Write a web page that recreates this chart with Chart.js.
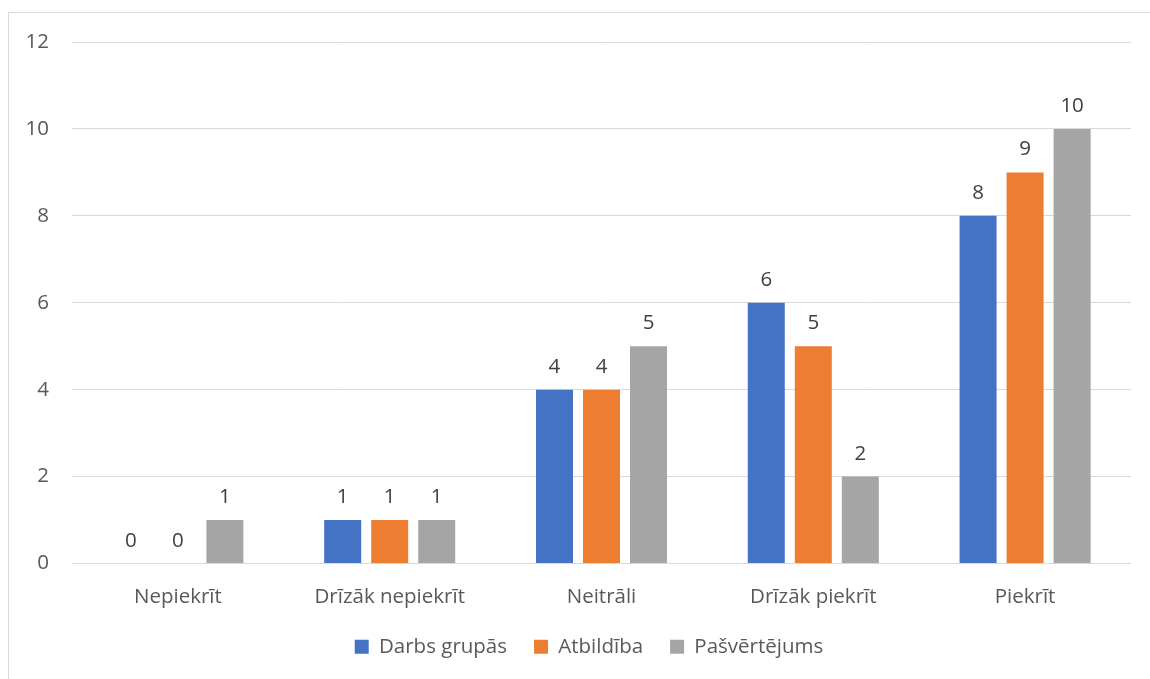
<!DOCTYPE html>
<html>
<head>
<meta charset="utf-8">
<script src="https://cdn.jsdelivr.net/npm/chart.js@4/dist/chart.umd.min.js"></script>
<style>
  body { margin: 0; background: #fff; overflow: hidden; }
  #frame { position: absolute; left: 8px; top: 12px; width: 1160px; height: 690px; border: 1px solid #d9d9d9; }
</style>
</head>
<body>
<div id="frame">
  <canvas id="answersChart" width="1141" height="666" style="width:1141px;height:666px"></canvas>
</div>
<script>
const categories = ['Nepiekrīt', 'Drīzāk nepiekrīt', 'Neitrāli', 'Drīzāk piekrīt', 'Piekrīt'];
const darbsGrupas = [0, 1, 4, 6, 8];
const atbildiba = [0, 1, 4, 5, 9];
const pasvertejums = [1, 1, 5, 2, 10];
const yTicks = [0, 2, 4, 6, 8, 10, 12];

const font = '"Open Sans", "Noto Sans", sans-serif';
const fontSize = 20.5;

// numbers above the bars
const valueLabels = {
    id: 'valueLabels',
    afterDatasetsDraw(chart) {
        const ctx = chart.ctx;
        ctx.save();
        ctx.font = fontSize + 'px ' + font;
        ctx.fillStyle = '#404040';
        ctx.textAlign = 'center';
        ctx.textBaseline = 'alphabetic';
        chart.data.datasets.forEach((ds, i) => {
            chart.getDatasetMeta(i).data.forEach((bar, j) => {
                ctx.fillText(ds.data[j], bar.x, bar.y - 17);
            });
        });
        ctx.restore();
    }
};

// legend sits a bit right of the canvas middle in the original
const legendShift = {
    id: 'legendShift',
    afterLayout(chart) {
        chart.legend.left += 17;
        chart.legend.right += 17;
    }
};

new Chart(document.getElementById('answersChart'), {
    type: 'bar',
    data: {
        labels: categories,
        datasets: [
            { label: 'Darbs grupās', data: darbsGrupas, backgroundColor: '#4472c4' },
            { label: 'Atbildība', data: atbildiba, backgroundColor: '#ed7d31' },
            { label: 'Pašvērtējums', data: pasvertejums, backgroundColor: '#a5a5a5' }
        ]
    },
    options: {
        responsive: false,
        animation: false,
        categoryPercentage: 0.666,
        barPercentage: 0.787,
        layout: { padding: { top: 0, right: 19, left: 4, bottom: 12 } },
        plugins: {
            legend: {
                position: 'bottom',
                labels: {
                    boxWidth: 14,
                    boxHeight: 14,
                    padding: 27,
                    color: '#595959',
                    font: { family: font, size: fontSize }
                }
            },
            tooltip: { enabled: false }
        },
        scales: {
            x: {
                grid: { display: false, drawTicks: false },
                border: { display: false },
                ticks: { color: '#595959', padding: 21.7, font: { family: font, size: fontSize } },
                afterFit: (s) => { s.height = 46; }
            },
            y: {
                min: 0,
                max: 12,
                afterBuildTicks: (axis) => { axis.ticks = yTicks.map(v => ({ value: v })); },
                grid: { color: '#d9d9d9', drawTicks: false },
                border: { display: false },
                ticks: { color: '#595959', padding: 23, font: { family: font, size: fontSize } },
                afterFit: (s) => { s.width = 59; s.paddingTop = 29; }
            }
        }
    },
    plugins: [valueLabels, legendShift]
});
</script>
</body>
</html>
